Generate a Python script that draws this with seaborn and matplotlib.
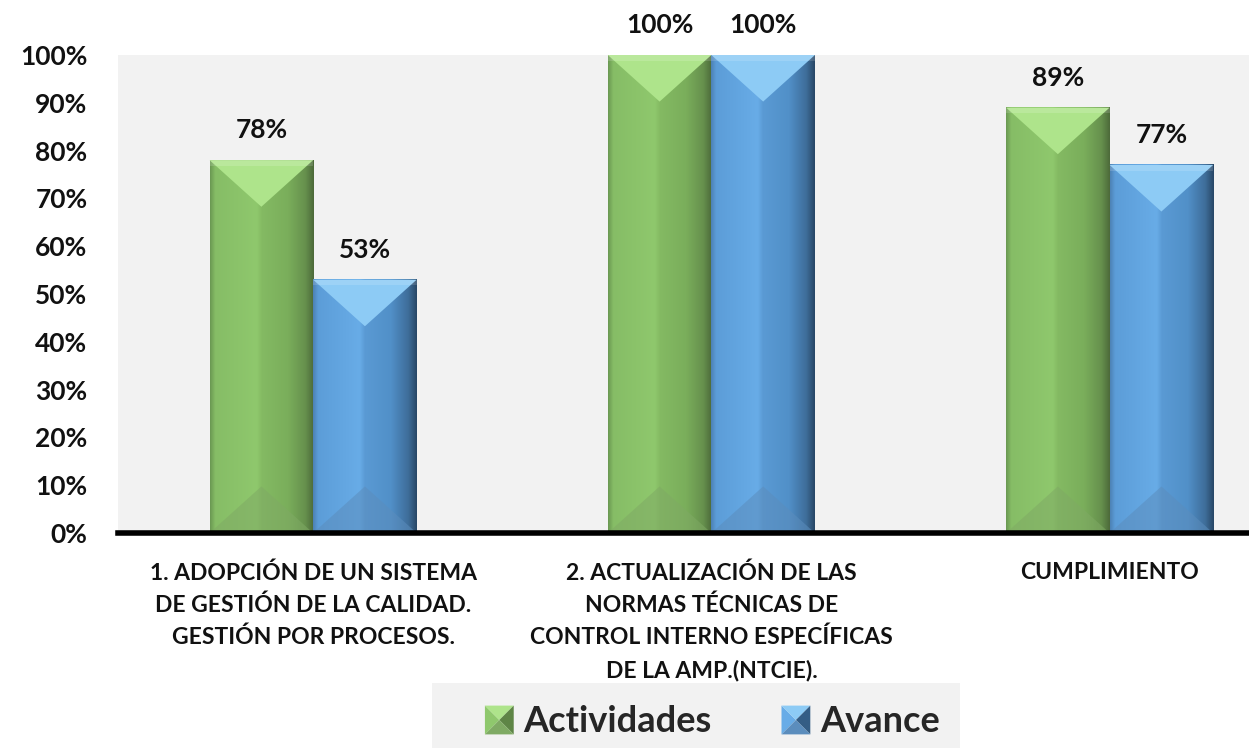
import numpy as np
import pandas as pd
import matplotlib
matplotlib.use("Agg")
import matplotlib.pyplot as plt
import seaborn as sns
from matplotlib.patches import Polygon, Rectangle
from matplotlib.legend_handler import HandlerBase
from matplotlib.colors import to_rgba

# ---------------- data ----------------
categorias = [
    "1. ADOPCIÓN DE UN SISTEMA\nDE GESTIÓN DE LA CALIDAD.\nGESTIÓN POR PROCESOS.",
    "2. ACTUALIZACIÓN DE LAS\nNORMAS TÉCNICAS DE\nCONTROL INTERNO ESPECÍFICAS\nDE LA AMP.(NTCIE).",
    "CUMPLIMIENTO",
]
series = ["Actividades", "Avance"]
actividades = [0.78, 1.00, 0.89]
avance = [0.53, 1.00, 0.77]
yticks = [0.0, 0.1, 0.2, 0.3, 0.4, 0.5, 0.6, 0.7, 0.8, 0.9, 1.0]
ytick_labels = ["0%", "10%", "20%", "30%", "40%", "50%", "60%", "70%", "80%", "90%", "100%"]

# ---------------- style ----------------
base_colors = {"Actividades": "#8CC46A", "Avance": "#62A6E2"}
grad_stops = {
    "Actividades": [(0.0, "#6A9852"), (0.05, "#86BD66"), (0.45, "#8FC86D"), (0.5, "#84BA63"),
                    (0.75, "#7AAE5B"), (0.92, "#66904D"), (1.0, "#4C6A3A")],
    "Avance": [(0.0, "#4C82B5"), (0.05, "#5C9DD8"), (0.45, "#68ACE7"), (0.5, "#5A9AD4"),
               (0.75, "#5190C8"), (0.92, "#3E6D99"), (1.0, "#284766")],
}
top_colors = {"Actividades": "#AEE48B", "Avance": "#8DCBF5"}
bottom_colors = {"Actividades": "#7FAA64", "Avance": "#5B8DBD"}
dark_colors = {"Actividades": "#5E8546", "Avance": "#345D85"}
text_color = "#111111"
bg = "#F2F2F2"

sns.set_theme(style="white")
plt.rcParams["font.family"] = ["Lato", "DejaVu Sans"]

W, H = 1249, 748
fig = plt.figure(figsize=(W / 100, H / 100), dpi=100)
ax = fig.add_axes([118 / W, 1 - 533 / H, 1 - 118 / W, (533 - 55) / H])
ax.set_facecolor(bg)

df = pd.DataFrame({
    "cat": categorias * 2,
    "serie": [series[0]] * len(categorias) + [series[1]] * len(categorias),
    "val": actividades + avance,
})
sns.barplot(data=df, x="cat", y="val", hue="serie", order=categorias, hue_order=series,
            palette=base_colors, width=0.52, gap=0, saturation=1, legend=False,
            edgecolor="none", linewidth=0, ax=ax, zorder=1)

ax.set_xlim(-0.49, 2.35)
ax.set_ylim(0, 1.0)


def gradient_row(stops, n=256):
    xs = np.linspace(0, 1, n)
    pos = [s[0] for s in stops]
    cols = np.array([to_rgba(s[1]) for s in stops])
    out = np.zeros((1, n, 4))
    for c in range(4):
        out[0, :, c] = np.interp(xs, pos, cols[:, c])
    return out


fig.canvas.draw()
px_per_y = ax.bbox.height / (ax.get_ylim()[1] - ax.get_ylim()[0])
px_per_x = ax.bbox.width / (ax.get_xlim()[1] - ax.get_xlim()[0])

bars = [p for p in ax.patches if isinstance(p, Rectangle) and p.get_height() > 0]
for p in bars:
    x0, w, h = p.get_x(), p.get_width(), p.get_height()
    fc = p.get_facecolor()
    key = min(series, key=lambda s: np.sum((np.array(to_rgba(base_colors[s])) - np.array(fc)) ** 2))
    ax.imshow(gradient_row(grad_stops[key]), extent=(x0, x0 + w, 0, h), aspect="auto",
              zorder=2, interpolation="bilinear")
    depth = 0.9 * (w * px_per_x / 2) / px_per_y
    ax.add_patch(Polygon([(x0, h), (x0 + w, h), (x0 + w / 2, h - depth)], closed=True,
                         facecolor=top_colors[key], edgecolor="none", zorder=3))
    ax.add_patch(Polygon([(x0, h), (x0 + w, h), (x0 + w, h - depth * 0.12), (x0, h - depth * 0.12)],
                         closed=True, facecolor="white", alpha=0.15, edgecolor="none", zorder=3))
    ax.add_patch(Polygon([(x0, 0), (x0 + w, 0), (x0 + w / 2, depth)], closed=True,
                         facecolor=bottom_colors[key], alpha=0.55, edgecolor="none", zorder=3))
    ax.annotate(f"{round(h * 100)}%", xy=(x0 + w / 2, h), xytext=(0, 13),
                textcoords="offset points", ha="center", va="bottom",
                fontsize=19, fontweight="bold", color=text_color,
                annotation_clip=False, zorder=5)

ax.set_xlim(-0.49, 2.35)
ax.set_ylim(0, 1.0)

ax.set_yticks(yticks)
ax.set_yticklabels(ytick_labels, fontsize=19, fontweight="bold", color=text_color)
ax.tick_params(axis="y", length=0, pad=22)
ax.set_xticks(range(len(categorias)))
ax.set_xticklabels(categorias, fontsize=16.5, fontweight="bold", color=text_color, linespacing=1.62)
ax.tick_params(axis="x", length=0, pad=21)
ax.set_xlabel("")
ax.set_ylabel("")
for s in ["top", "left", "right"]:
    ax.spines[s].set_visible(False)
ax.spines["bottom"].set_color("black")
ax.spines["bottom"].set_linewidth(4)
ax.spines["bottom"].set_zorder(6)
ax.grid(False)


class BevelHandler(HandlerBase):
    def create_artists(self, legend, orig_handle, xdescent, ydescent, width, height, fontsize, trans):
        key = orig_handle.get_label()
        s = min(width, height)
        x0 = -xdescent + (width - s) / 2
        y0 = -ydescent + (height - s) / 2
        c = (x0 + s / 2, y0 + s / 2)
        arts = [
            Polygon([(x0, y0), (x0, y0 + s), c], facecolor=grad_stops[key][2][1], edgecolor="none"),
            Polygon([(x0, y0 + s), (x0 + s, y0 + s), c], facecolor=top_colors[key], edgecolor="none"),
            Polygon([(x0 + s, y0 + s), (x0 + s, y0), c], facecolor=dark_colors[key], edgecolor="none"),
            Polygon([(x0, y0), (x0 + s, y0), c], facecolor=bottom_colors[key], edgecolor="none"),
        ]
        for a in arts:
            a.set_transform(trans)
        return arts


# legend with grey background
fig.patches.append(Rectangle((432 / W, 0), (960 - 432) / W, (748 - 683) / H,
                             transform=fig.transFigure, facecolor=bg, edgecolor="none", zorder=0))
handles = [Rectangle((0, 0), 1, 1, facecolor=base_colors[s], label=s) for s in series]
fig.legend(handles, series, loc="center", bbox_to_anchor=(712 / W, 1 - 722 / H), ncol=2,
           frameon=False, prop={"size": 26, "weight": "bold"}, handlelength=0.85, handleheight=0.85,
           handletextpad=0.25, columnspacing=1.9,
           handler_map={Rectangle: BevelHandler()})

fig.savefig("out.png", dpi=100, facecolor="white")
